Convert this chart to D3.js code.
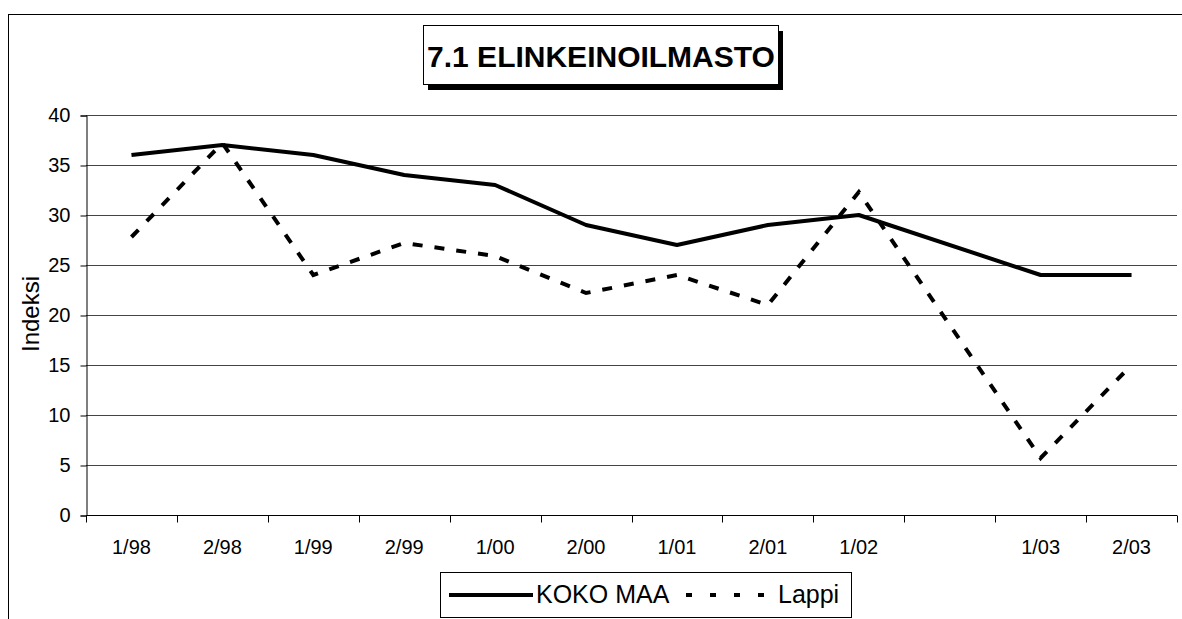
<!DOCTYPE html>
<html>
<head>
<meta charset="utf-8">
<script src="https://cdn.jsdelivr.net/npm/d3@7"></script>
<style>
  body { margin: 0; background: #fff; }
  text { font-family: "Liberation Sans", Arial, sans-serif; fill: #000; }
</style>
</head>
<body>
<svg id="chart"></svg>
<script>
// categories (one empty slot between 1/02 and 1/03)
var periods = ["1/98", "2/98", "1/99", "2/99", "1/00", "2/00", "1/01", "2/01", "1/02", "", "1/03", "2/03"];
// series values
var kokoMaa = [36, 37, 36, 34, 33, 29, 27, 29, 30, null, 24, 24];
var lappi = [27.8, 37.2, 24, 27.2, 25.9, 22.2, 24, 21, 32.3, null, 5.7, 15];
var yTicks = [0, 5, 10, 15, 20, 25, 30, 35, 40];

var width = 1182, height = 619;
var margin = {top: 115, right: 5, bottom: 104, left: 86};

const svg = d3.select("#chart")
    .attr("width", width)
    .attr("height", height);

// outer frame
svg.append("rect")
    .attr("x", 8.5).attr("y", 14.5)
    .attr("width", 1300).attr("height", 800)
    .attr("fill", "none")
    .attr("stroke", "#000")
    .attr("stroke-width", 1);

var x = d3.scaleBand()
    .domain(d3.range(periods.length))
    .range([margin.left, width - margin.right]);
var y = d3.scaleLinear()
    .domain([0, 40])
    .range([height - margin.bottom, margin.top]);

// gridlines
svg.append("g")
    .selectAll("line")
    .data(yTicks.filter(function(d) { return d > 0; }))
    .join("line")
    .attr("x1", margin.left)
    .attr("x2", width - margin.right)
    .attr("y1", function(d) { return Math.round(y(d)) + 0.5; })
    .attr("y2", function(d) { return Math.round(y(d)) + 0.5; })
    .attr("stroke", "#444")
    .attr("stroke-width", 1);

// y axis
var yAxis = svg.append("g")
    .attr("transform", "translate(" + (margin.left + 0.5) + ",0.5)")
    .call(d3.axisLeft(y).tickValues(yTicks).tickSize(6).tickPadding(10));
yAxis.selectAll("text").style("font-size", "20px");

// x axis, ticks on band boundaries
var xAxis = svg.append("g")
    .attr("transform", "translate(0," + (Math.round(y(0)) + 0.5) + ")");
xAxis.append("line")
    .attr("x1", margin.left)
    .attr("x2", width - margin.right)
    .attr("stroke", "#000");
xAxis.selectAll(".tick")
    .data(d3.range(periods.length + 1))
    .join("line")
    .attr("class", "tick")
    .attr("x1", function(i) { return Math.round(margin.left + i * x.step()) + 0.5; })
    .attr("x2", function(i) { return Math.round(margin.left + i * x.step()) + 0.5; })
    .attr("y1", 0).attr("y2", 7)
    .attr("stroke", "#000");
xAxis.selectAll(".label")
    .data(periods)
    .join("text")
    .attr("class", "label")
    .attr("x", function(d, i) { return x(i) + x.bandwidth() / 2; })
    .attr("y", 38)
    .attr("text-anchor", "middle")
    .style("font-size", "20px")
    .text(function(d) { return d; });

svg.selectAll(".domain").attr("stroke", "#000");

// y axis label
svg.append("text")
    .attr("transform", "translate(39,314) rotate(-90)")
    .attr("text-anchor", "middle")
    .style("font-size", "24px")
    .text("Indeksi");

// lines (skip the empty period, connect across it)
var line = d3.line()
    .x(function(d) { return x(d[0]) + x.bandwidth() / 2; })
    .y(function(d) { return y(d[1]); });

function points(values) {
  return values.map(function(v, i) { return [i, v]; }).filter(function(d) { return d[1] != null; });
}

svg.append("path")
    .datum(points(lappi))
    .attr("d", line)
    .attr("fill", "none")
    .attr("stroke", "#000")
    .attr("stroke-width", 4)
    .attr("stroke-dasharray", "10,12");

svg.append("path")
    .datum(points(kokoMaa))
    .attr("d", line)
    .attr("fill", "none")
    .attr("stroke", "#000")
    .attr("stroke-width", 4)
    .attr("stroke-linejoin", "round");

// title box with shadow
var title = svg.append("g");
title.append("rect")
    .attr("x", 428).attr("y", 31)
    .attr("width", 355).attr("height", 59)
    .attr("fill", "#000");
title.append("rect")
    .attr("x", 423.5).attr("y", 25.5)
    .attr("width", 355).attr("height", 59)
    .attr("fill", "#fff")
    .attr("stroke", "#000");
title.append("text")
    .attr("x", 601).attr("y", 67)
    .attr("text-anchor", "middle")
    .style("font-size", "30px")
    .style("font-weight", "bold")
    .text("7.1 ELINKEINOILMASTO");

// legend
var legend = svg.append("g");
legend.append("rect")
    .attr("x", 440.5).attr("y", 572.5)
    .attr("width", 411).attr("height", 45)
    .attr("fill", "#fff")
    .attr("stroke", "#000");
var series = [
  {name: "KOKO MAA", dash: null, x1: 449, x2: 533, tx: 536},
  {name: "Lappi", dash: "6,18", x1: 686, x2: 776, tx: 778}
];
series.forEach(function(s) {
  legend.append("line")
      .attr("x1", s.x1).attr("x2", s.x2)
      .attr("y1", 595).attr("y2", 595)
      .attr("stroke", "#000")
      .attr("stroke-width", 4)
      .attr("stroke-dasharray", s.dash);
  legend.append("text")
      .attr("x", s.tx).attr("y", 603)
      .style("font-size", "25px")
      .text(s.name);
});
</script>
</body>
</html>
